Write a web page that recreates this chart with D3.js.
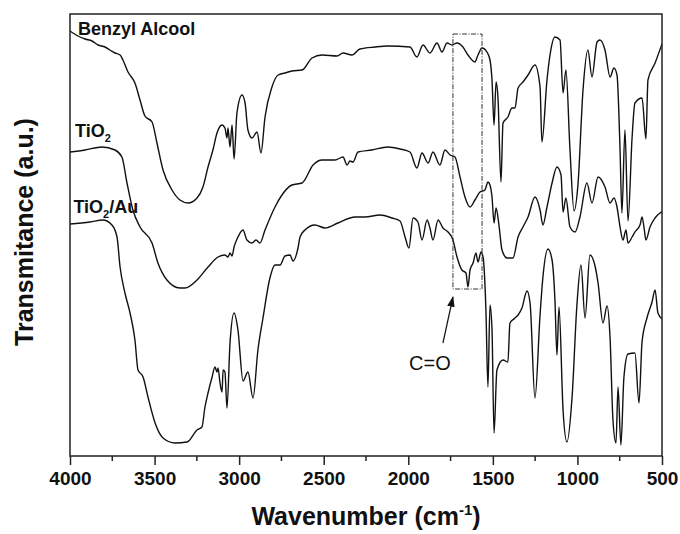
<!DOCTYPE html>
<meta charset="utf-8">
<style>
body { margin: 0; background: #fff; }
text { font-family: "Liberation Sans", Arial, sans-serif; fill: #111; }
.tick text { font-size: 19px; font-weight: bold; }
.series-label { font-size: 18px; font-weight: bold; }
.axis-title { font-size: 25px; font-weight: bold; }
.note { font-size: 20px; }
.spectrum { fill: none; stroke: #111; stroke-width: 1.4px; stroke-linejoin: round; }
</style>
<body>
<script src="https://d3js.org/d3.v7.min.js"></script>
<script>

// wavenumbers (cm-1) and transmittance (a.u.)
const benzylWn = [4000,3953,3911,3870,3834,3793,3764,3734,3704,3687,3657,3616,3586,3557,3515,3486,3450,3397,3350,3302,3249,3214,3184,3155,3131,3101,3084,3072,3066,3054,3042,3030,3013,2983,2965,2948,2924,2894,2871,2847,2806,2770,2729,2688,2628,2569,2510,2421,2386,2333,2286,2197,2120,1990,1949,1913,1872,1830,1801,1771,1742,1712,1677,1647,1606,1588,1564,1535,1517,1505,1493,1481,1470,1452,1440,1411,1387,1369,1351,1322,1292,1251,1221,1210,1180,1162,1133,1103,1085,1068,1044,1020,997,967,938,914,884,867,837,807,784,766,748,737,719,701,677,660,618,595,583,541,500];
const benzylT  = [425,420,417,415,411,409,406,403,401,396,384,373,356,340,334,313,286,266,256,253,258,269,289,306,323,331,328,318,328,309,331,297,343,361,353,326,318,324,303,339,369,381,383,385,386,398,401,400,403,401,407,409,410,409,399,411,403,413,404,413,411,413,409,401,394,401,408,404,396,376,331,374,359,274,333,339,348,348,368,374,381,391,369,314,376,401,419,416,363,386,306,245,271,366,406,379,414,416,406,379,388,381,306,243,326,235,318,353,358,317,376,393,412];

const tio2Wn = [4000,3911,3811,3734,3693,3663,3628,3586,3515,3480,3427,3350,3320,3249,3184,3125,3084,3066,3054,3042,3030,3007,2977,2954,2924,2900,2877,2847,2788,2747,2688,2628,2563,2510,2433,2386,2362,2345,2327,2297,2215,2120,2049,1990,1949,1919,1883,1854,1813,1783,1753,1724,1694,1665,1635,1606,1576,1547,1529,1517,1505,1493,1481,1464,1446,1416,1381,1351,1322,1292,1251,1221,1204,1180,1150,1121,1097,1085,1068,1044,1014,985,944,914,878,837,807,784,766,748,731,713,701,677,660,630,618,606,595,571,541,512,500];
const tio2T  = [304,306,309,306,299,273,246,229,213,193,176,168,168,176,189,199,201,199,203,200,209,219,226,216,213,216,213,226,249,261,271,273,291,296,296,299,291,295,294,304,306,309,307,304,288,303,293,304,291,306,301,299,279,259,249,256,264,266,274,271,259,233,248,231,206,198,198,219,229,239,259,246,231,249,273,289,281,244,258,229,224,239,273,253,279,269,253,258,249,229,216,226,213,219,224,231,239,228,216,229,238,243,244];

const tio2AuWn = [4000,3882,3805,3752,3722,3704,3675,3645,3616,3598,3568,3539,3497,3450,3379,3308,3249,3220,3202,3184,3160,3143,3131,3125,3113,3101,3095,3084,3072,3054,3030,3007,2977,2948,2918,2889,2859,2818,2788,2758,2729,2699,2682,2652,2640,2611,2552,2492,2416,2315,2256,2167,2096,2049,2019,1996,1972,1943,1919,1889,1872,1854,1824,1795,1765,1736,1712,1683,1659,1647,1635,1617,1600,1588,1570,1558,1541,1529,1517,1505,1493,1476,1440,1411,1399,1369,1351,1328,1298,1280,1251,1221,1204,1174,1150,1133,1121,1109,1085,1062,1032,1003,979,955,926,896,878,849,825,807,790,772,760,743,725,701,660,636,618,589,559,541,524,500];
const tio2AuT  = [232,234,236,231,219,189,163,143,116,86,79,59,33,18,13,14,26,29,49,63,79,89,84,88,73,64,86,84,48,113,143,126,75,84,58,106,138,178,191,191,200,201,195,208,219,226,231,228,233,239,239,241,238,235,219,208,238,234,216,236,228,216,236,228,224,216,199,186,183,169,186,193,203,194,204,199,146,69,151,126,23,86,96,94,133,138,141,148,165,153,58,141,179,207,196,156,101,149,46,14,58,151,191,138,201,190,173,133,150,118,36,13,69,11,79,102,103,53,114,138,154,166,143,137];

const xTicks = [4000, 3500, 3000, 2500, 2000, 1500, 1000, 500];
const xMinorTicks = [3750, 3250, 2750, 2250, 1750, 1250, 750];

const seriesNames = ["Benzyl Alcool", "TiO2", "TiO2/Au"];

const width = 680, height = 534;
const margin = {left: 70, right: 18, top: 14, bottom: 78};

const svg = d3.select("body").append("svg")
    .attr("width", width)
    .attr("height", height);

const x = d3.scaleLinear()
    .domain([4000, 500])
    .range([margin.left, width - margin.right]);
const y = d3.scaleLinear()
    .domain([0, 442])
    .range([height - margin.bottom, margin.top]);

const line = d3.line()
    .x(d => x(d[0]))
    .y(d => y(d[1]))
    .curve(d3.curveMonotoneX);

const series = [
    d3.zip(benzylWn, benzylT),
    d3.zip(tio2Wn, tio2T),
    d3.zip(tio2AuWn, tio2AuT)
];

svg.append("g")
  .selectAll("path")
  .data(series)
  .join("path")
    .attr("class", "spectrum")
    .attr("d", line);

// frame
svg.append("rect")
    .attr("x", x(4000))
    .attr("y", y(442))
    .attr("width", x(500) - x(4000))
    .attr("height", y(0) - y(442))
    .attr("fill", "none")
    .attr("stroke", "#222")
    .attr("stroke-width", 1.5);

// x axis
const xAxis = svg.append("g")
    .attr("transform", `translate(0,${y(0)})`)
    .call(d3.axisBottom(x).tickValues(xTicks).tickSize(9).tickPadding(7).tickFormat(d3.format("d")));
xAxis.select(".domain").remove();
xAxis.selectAll(".tick line").attr("stroke", "#222").attr("stroke-width", 1.5);

svg.append("g")
    .attr("transform", `translate(0,${y(0)})`)
  .selectAll("line")
  .data(xMinorTicks)
  .join("line")
    .attr("x1", d => x(d)).attr("x2", d => x(d))
    .attr("y1", 0).attr("y2", 5)
    .attr("stroke", "#222")
    .attr("stroke-width", 1.5);

// axis titles
const xt = svg.append("text")
    .attr("class", "axis-title")
    .attr("x", (x(4000) + x(500)) / 2)
    .attr("y", 525)
    .attr("text-anchor", "middle");
xt.append("tspan").text("Wavenumber (cm");
xt.append("tspan").attr("font-size", 15).attr("dy", -10).text("-1");
xt.append("tspan").attr("dy", 10).text(")");

svg.append("text")
    .attr("class", "axis-title")
    .attr("transform", `translate(33,${(y(0) + y(442)) / 2 - 3}) rotate(-90)`)
    .attr("text-anchor", "middle")
    .text("Transmitance (a.u.)");

// series labels
const labelPos = [[3953, 421], [3970, 319], [3980, 243]];
seriesNames.forEach((name, i) => {
    const t = svg.append("text")
        .attr("class", "series-label")
        .attr("x", x(labelPos[i][0]))
        .attr("y", y(labelPos[i][1]));
    if (name.startsWith("TiO2")) {
        t.append("tspan").text("TiO");
        t.append("tspan").attr("font-size", 11).attr("dy", 5).text("2");
        if (name.length > 4) t.append("tspan").attr("dy", -5).text(name.slice(4));
    } else {
        t.text(name);
    }
});

// C=O box and arrow
svg.append("rect")
    .attr("x", x(1736))
    .attr("y", y(422))
    .attr("width", x(1564) - x(1736))
    .attr("height", y(167) - y(422))
    .attr("fill", "none")
    .attr("stroke", "#333")
    .attr("stroke-width", 1)
    .attr("stroke-dasharray", "5,1.5,1,1.5");

svg.append("defs").append("marker")
    .attr("id", "head")
    .attr("viewBox", "0 0 10 10")
    .attr("refX", 9).attr("refY", 5)
    .attr("markerWidth", 9).attr("markerHeight", 9)
    .attr("orient", "auto")
  .append("path")
    .attr("d", "M0,1.5L10,5L0,8.5Z")
    .attr("fill", "#111");

svg.append("line")
    .attr("x1", x(1795)).attr("y1", y(113))
    .attr("x2", x(1736)).attr("y2", y(159))
    .attr("stroke", "#111")
    .attr("stroke-width", 1.2)
    .attr("marker-end", "url(#head)");

svg.append("text")
    .attr("class", "note")
    .attr("x", x(1872))
    .attr("y", y(86))
    .attr("text-anchor", "middle")
    .text("C=O");

</script>
